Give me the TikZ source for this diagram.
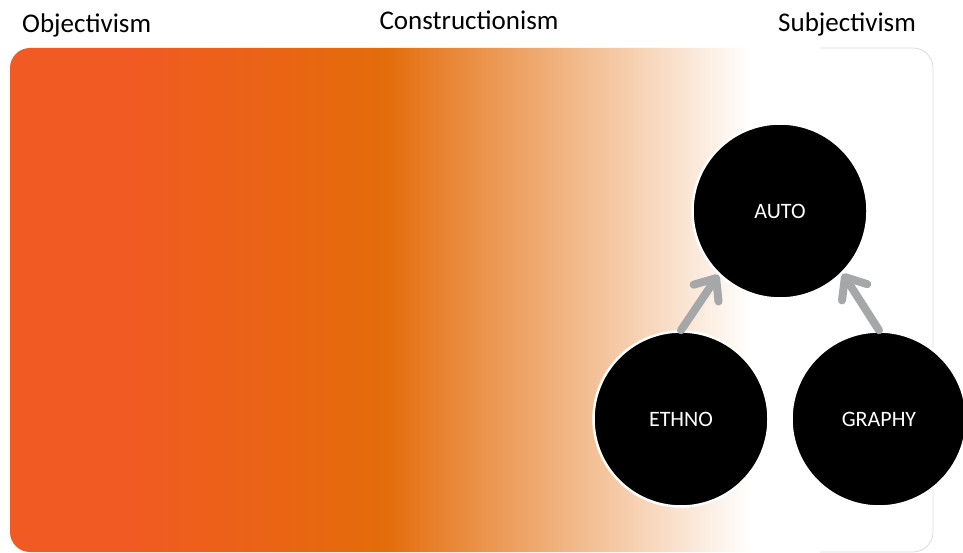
\documentclass[tikz,border=0pt]{standalone}
\usepackage{fontspec}
\setmainfont{Carlito}
\usetikzlibrary{arrows.meta}

\definecolor{deeporange}{HTML}{F15A22}
\definecolor{midorange}{HTML}{E46C0A}
\definecolor{arrowgray}{HTML}{A6A7A9}
\definecolor{edgegray}{HTML}{DCDCDC}

% horizontal colour ramp: path spans 25bp..75bp of the shading
\pgfdeclarehorizontalshading{spectrum}{100bp}{%
  color(0bp)=(deeporange); color(25bp)=(deeporange); color(31.5bp)=(deeporange);
  color(45.3bp)=(midorange); color(65.1bp)=(white); color(100bp)=(white)}

\tikzset{
  heading/.style={font=\fontsize{27}{30}\selectfont, text=black, inner sep=0pt},
  bubble/.style={circle, fill=black, draw=white, line width=2.5pt,
    minimum size=175pt, inner sep=0pt, text=white,
    font=\fontsize{22}{24}\selectfont},
  link/.style={draw=arrowgray, line width=8pt, line cap=round,
    -{Straight Barb[length=18pt, width=30pt, round]}}
}

\begin{document}
\begin{tikzpicture}[x=1pt, y=-1pt]
  \useasboundingbox (0,0) rectangle (963,553);

  % spectrum band
  \shade[shading=spectrum, rounded corners=20pt] (10,48) rectangle (933,552);
  \draw[edgegray, line width=0.8pt, rounded corners=20pt]
    (820,48) -- (933,48) -- (933,552) -- (820,552);

  % axis labels
  \node[heading, anchor=base west] (obj) at (22,33) {Objectivism};
  \node[heading, anchor=base] (con) at (469,30) {Constructionism};
  \node[heading, anchor=base west] (sub) at (778,32) {Subjectivism};

  % word parts
  \node[bubble] (auto) at (780,211) {AUTO};
  \node[bubble] (ethno) at (681,419) {ETHNO};
  \node[bubble] (graphy) at (879,419) {GRAPHY};

  % connectors
  \draw[link] (ethno.north) -- (auto.226);
  \draw[link] (graphy.north) -- (auto.315);
\end{tikzpicture}
\end{document}
